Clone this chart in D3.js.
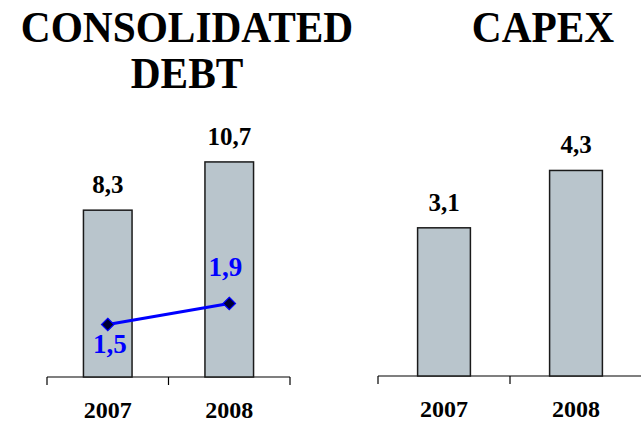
<!DOCTYPE html>
<html><head><meta charset="utf-8">
<script src="https://cdn.jsdelivr.net/npm/d3@7"></script>
<style>
html,body{margin:0;padding:0;background:#fff;}
svg{font-family:"Liberation Serif",serif;font-weight:bold;}
</style></head>
<body>
<script>
const years = ["2007", "2008"];
const debtValues = [8.3, 10.7];
const debtLabels = ["8,3", "10,7"];
const ratioValues = [1.5, 1.9];
const ratioLabels = ["1,5", "1,9"];
const capexValues = [3.1, 4.3];
const capexLabels = ["3,1", "4,3"];

const W = 641, H = 422;
const svg = d3.select("body").append("svg").attr("width", W).attr("height", H);

const barFill = "#b9c5cc", barStroke = "#1a1a1a";

function addText(parent, size, color) {
  return parent.append("text")
    .style("font-family", "Liberation Serif")
    .style("font-weight", "bold")
    .style("font-size", size + "px")
    .attr("fill", color)
    .attr("text-anchor", "middle");
}

[["CONSOLIDATED", 187, 42], ["DEBT", 187, 88], ["CAPEX", 543, 42]].forEach(([t, cx, cy]) => {
  addText(svg, 44, "#000")
    .attr("transform", `translate(${cx},${cy}) scale(0.94,1)`)
    .text(t);
});

function panel(opts) {
  const x = d3.scaleBand().domain(years).range(opts.xr).paddingInner(0.6).paddingOuter(0.3);
  const y = d3.scaleLinear().domain(opts.yd).range(opts.yr);
  const g = svg.append("g");
  const base = y(0);
  g.append("line").attr("x1", opts.xr[0]).attr("x2", opts.xr[1])
    .attr("y1", base).attr("y2", base).attr("stroke", "#000").attr("stroke-width", 1.2);
  d3.range(years.length + 1).forEach(i => {
    const tx = opts.xr[0] + i * x.step();
    g.append("line").attr("x1", tx).attr("x2", tx).attr("y1", base).attr("y2", base + 8)
      .attr("stroke", "#000").attr("stroke-width", 1.2);
  });
  opts.values.forEach((v, i) => {
    const bx = x(years[i]);
    g.append("rect").attr("x", bx).attr("width", x.bandwidth())
      .attr("y", y(v)).attr("height", base - y(v))
      .attr("fill", barFill).attr("stroke", barStroke).attr("stroke-width", 1.5);
    addText(g, 25, "#000").attr("x", bx + x.bandwidth() / 2).attr("y", y(v) - 17).text(opts.labels[i]);
    addText(g, 24, "#000").attr("x", bx + x.bandwidth() / 2).attr("y", base + 41).text(years[i]);
  });
  return { x, g, base };
}

const left = panel({ xr: [47, 290], yd: [0, 12], yr: [377, 377 - 12 * 20.1], values: debtValues, labels: debtLabels });
panel({ xr: [378, 642], yd: [0, 5], yr: [376, 376 - 5 * 47.8], values: capexValues, labels: capexLabels });

const y2 = d3.scaleLinear().domain([0.5, 4.5]).range([377, 167]);
const cx = (d, i) => left.x(years[i]) + left.x.bandwidth() / 2;
const line = d3.line().x((d, i) => cx(d, i)).y(d => y2(d));
left.g.append("path").datum(ratioValues).attr("d", line)
  .attr("fill", "none").attr("stroke", "#0000ff").attr("stroke-width", 3.2);
ratioValues.forEach((v, i) => {
  left.g.append("path")
    .attr("d", d3.symbol().type(d3.symbolDiamond2).size(100)())
    .attr("transform", `translate(${cx(v, i)},${y2(v)})`)
    .attr("fill", "#000033").attr("stroke", "#0000ff").attr("stroke-width", 1.2);
  addText(left.g, 27, "#0000ff")
    .attr("x", cx(v, i) + (i === 0 ? 2 : -4))
    .attr("y", i === 0 ? y2(v) + 28 : y2(v) - 28)
    .text(ratioLabels[i]);
});
</script>
</body></html>
